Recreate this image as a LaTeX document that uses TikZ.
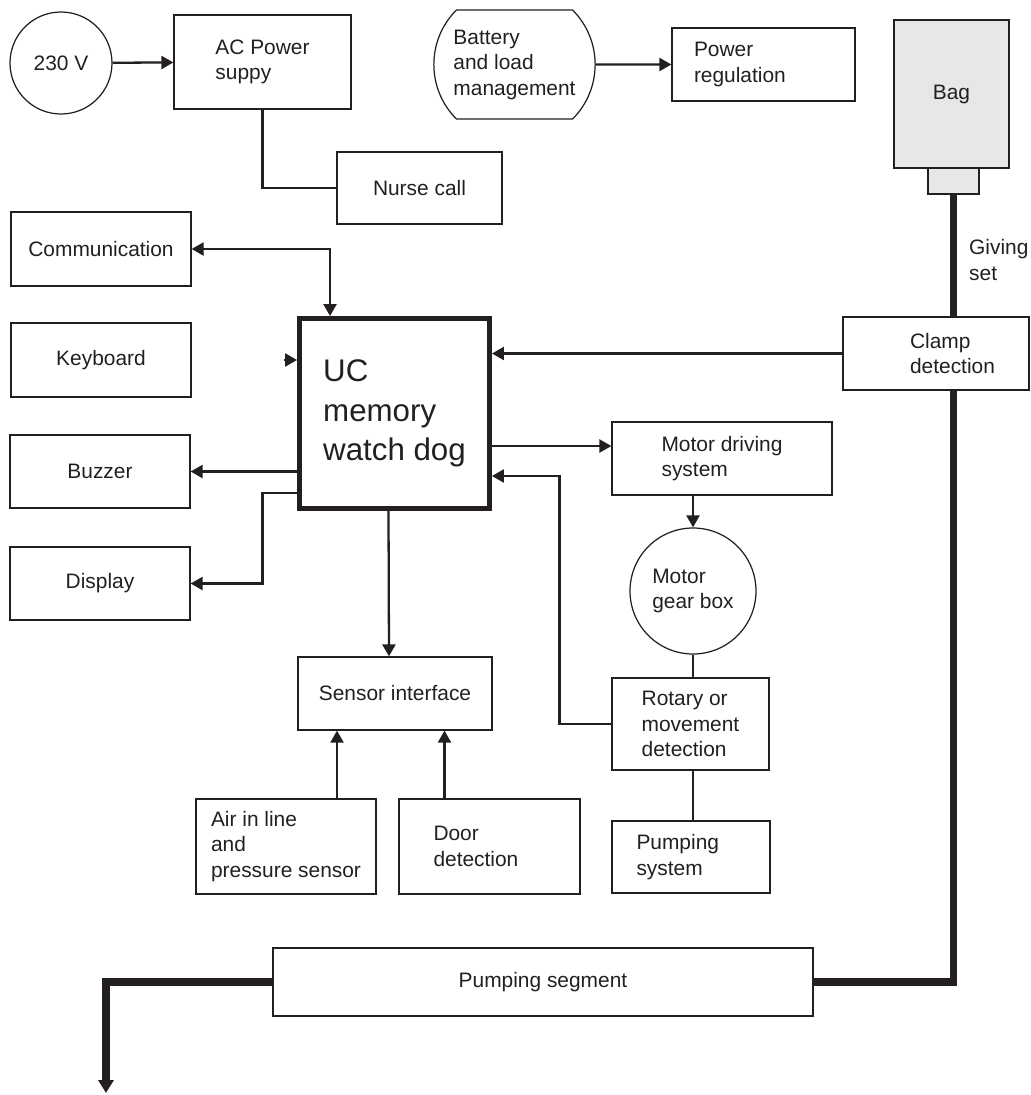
\documentclass[tikz,border=0pt]{standalone}
\usepackage{fontspec}
\setmainfont{Liberation Sans}
\usetikzlibrary{arrows.meta,shapes.misc}

\definecolor{ink}{RGB}{35,31,32}
\definecolor{baggray}{RGB}{230,231,232}

\begin{document}
\begin{tikzpicture}[
    font=\fontsize{11.9}{14.5}\selectfont, text=ink,
    box/.style={draw=ink, line width=0.7pt, align=left},
    arr/.style={draw=ink, line width=1.3pt, -{Triangle[length=0.24cm,width=0.26cm]}},
    wire/.style={draw=ink, line width=1.3pt},
    tube/.style={draw=ink, line width=4.5pt}
  ]
  \useasboundingbox (0,0) rectangle (20.6,-21.9);

  % Power supply and battery
  \node[box, circle, minimum size=2.04cm] (v230) at (1.22,-1.26) {230 V};
  \node[box, minimum width=3.54cm, minimum height=1.88cm] (acps) at (5.25,-1.24) {AC Power\\suppy};
  \node[box, minimum width=3.30cm, minimum height=1.44cm] (nurse) at (8.39,-3.76) {Nurse call};
  \node[box, rounded rectangle, rounded rectangle arc length=90, minimum width=3.46cm, minimum height=2.18cm] (batt) at (10.29,-1.29) {Battery\\and load\\management};
  \node[box, text width=2.78cm, minimum width=3.66cm, minimum height=1.46cm] (preg) at (15.27,-1.29) {Power\\regulation};

  % Bag and giving set
  \node[box, fill=baggray, minimum width=2.30cm, minimum height=2.96cm] (bag) at (19.03,-1.88) {Bag};
  \node[box, fill=baggray, minimum width=1.02cm, minimum height=0.52cm] (neck) at (19.07,-3.62) {};
  \node[align=left, anchor=west] (gs) at (19.26,-5.2) {Giving\\set};
  \node[box, minimum width=3.72cm, minimum height=1.46cm] (clamp) at (18.72,-7.07) {\hspace*{0.66cm}Clamp\\\hspace*{0.66cm}detection};

  % Left column
  \node[box, minimum width=3.60cm, minimum height=1.48cm] (comm) at (2.02,-4.98) {Communication};
  \node[box, minimum width=3.60cm, minimum height=1.48cm] (kb) at (2.02,-7.20) {Keyboard};
  \node[box, minimum width=3.60cm, minimum height=1.46cm] (buzz) at (2.00,-9.43) {Buzzer};
  \node[box, minimum width=3.60cm, minimum height=1.46cm] (disp) at (2.00,-11.67) {Display};

  % Controller
  \node[draw=ink, line width=2.8pt, align=left, minimum width=3.80cm, minimum height=3.80cm,
        font=\fontsize{17.8}{22.4}\selectfont] (uc) at (7.89,-8.27) {UC\\memory\\watch dog};

  % Motor chain
  \node[box, minimum width=4.40cm, minimum height=1.46cm] (md) at (14.44,-9.17) {Motor driving\\system};
  \node[box, circle, minimum size=2.52cm] (gear) at (13.86,-11.82) {Motor\\gear box};
  \node[box, minimum width=3.14cm, minimum height=1.84cm] (rot) at (13.81,-14.48) {Rotary or\\movement\\detection};
  \node[box, text width=2.18cm, minimum width=3.16cm, minimum height=1.44cm] (psys) at (13.82,-17.14) {Pumping\\system};

  % Sensors
  \node[box, minimum width=3.88cm, minimum height=1.46cm] (si) at (7.90,-13.87) {Sensor interface};
  \node[box, minimum width=3.60cm, minimum height=1.90cm] (air) at (5.72,-16.93) {Air in line\\and\\pressure sensor};
  \node[box, text width=2.24cm, minimum width=3.62cm, minimum height=1.90cm] (door) at (9.79,-16.93) {Door\\detection};

  % Pumping segment
  \node[box, minimum width=10.80cm, minimum height=1.36cm] (pseg) at (10.86,-19.64) {Pumping segment};
  \coordinate (tubeend) at (2.12,-21.86);

  % Connectors
  \draw[arr] (v230) -- (acps);
  \draw[wire] (acps.south) |- (nurse.west);
  \draw[arr] (batt) -- (preg);
  \draw[wire, {Triangle[length=0.24cm,width=0.26cm]}-{Triangle[length=0.24cm,width=0.26cm]}] (comm.east) -| ([xshift=0.66cm]uc.north west);
  \draw[arr] ([xshift=-0.26cm]uc.west |- kb.east) -- (uc.west |- kb.east);
  \draw[arr] (uc.west |- buzz.east) -- (buzz.east);
  \draw[arr] ([yshift=-1.59cm]uc.west) -| ([xshift=1.44cm]disp.east) -- (disp.east);
  \draw[arr] ([xshift=-0.12cm]uc.south) -- ([xshift=-0.12cm]si.north);
  \draw[arr] ([xshift=1.02cm]air.north) -- ([xshift=1.02cm]air.north |- si.south);
  \draw[arr] ([xshift=-0.9cm]door.north) -- ([xshift=-0.9cm]door.north |- si.south);
  \draw[arr] (clamp.west) -- (clamp.west -| uc.east);
  \draw[arr] ([yshift=0.25cm]md.west -| uc.east) -- ([yshift=0.25cm]md.west);
  \draw[arr] (md.south -| gear.north) -- (gear.north);
  \draw[wire] (gear.south) -- (gear.south |- rot.north);
  \draw[wire] (rot.south -| gear.south) -- (psys.north -| gear.south);
  \draw[arr] (rot.west) -- ++(-1.04,0) |- ([yshift=-1.25cm]uc.east);

  % Giving set tube
  \draw[tube] (neck.south) -- (neck.south |- clamp.north);
  \draw[tube] (neck.south |- clamp.south) |- (pseg.east);
  \draw[tube, -{Triangle[length=0.26cm,width=0.3cm]}] (pseg.west) -| (tubeend);
\end{tikzpicture}
\end{document}
